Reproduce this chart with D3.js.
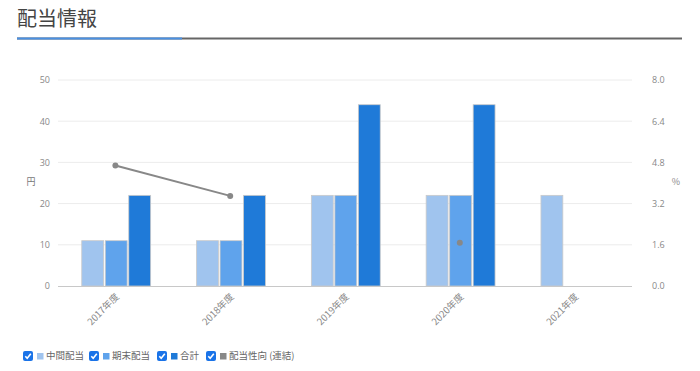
<!DOCTYPE html>
<html>
<head>
<meta charset="utf-8">
<script src="https://cdn.jsdelivr.net/npm/d3@7"></script>
<style>
body { margin: 0; background: #fff; font-family: "Noto Sans CJK JP", "Noto Sans", sans-serif; }
</style>
</head>
<body>
<svg width="700" height="371"></svg>
<script>
'use strict';
// data
let aYears = ["2017年度", "2018年度", "2019年度", "2020年度", "2021年度"]
let aInterim = [11, 11, 22, 22, 22]
let aYearEnd = [11, 11, 22, 22, null]
let aTotal = [22, 22, 44, 44, null]
let aPayout = [4.68, 3.5, null, 1.68, null]
let aSeries = ["中間配当", "期末配当", "合計", "配当性向 (連結)"]
let aColors = ["#a0c4ee", "#5fa3ec", "#1f7ad8", "#888888"]
let aLeftTicks = [0, 10, 20, 30, 40, 50]
let aRightTicks = [0, 1.6, 3.2, 4.8, 6.4, 8.0]

let eSvg = d3.select("svg")
let dLeft = 58, dRight = 632, dTop = 80, dBottom = 286

// title
eSvg.append("text").attr("x", 17).attr("y", 26)
	.attr("font-size", 20).attr("fill", "#444").text("配当情報")
eSvg.append("rect").attr("x", 17).attr("y", 37.5).attr("width", 665).attr("height", 2).attr("fill", "#666")
eSvg.append("rect").attr("x", 17).attr("y", 37.5).attr("width", 165).attr("height", 2).attr("fill", "#4a90e2")

// scales
let sX = d3.scaleBand().domain(aYears).range([dLeft, dRight])
let sInner = d3.scaleBand().domain([0, 1, 2]).range([0, sX.bandwidth() * 0.6]).paddingInner(0.07)
let sY = d3.scaleLinear().domain([0, 50]).range([dBottom, dTop])
let sY2 = d3.scaleLinear().domain([0, 8]).range([dBottom, dTop])

// grid
eSvg.append("g").selectAll("line").data(aLeftTicks.slice(1)).join("line")
	.attr("x1", dLeft).attr("x2", dRight)
	.attr("y1", d => sY(d)).attr("y2", d => sY(d))
	.attr("stroke", "#ececec")

// left axis
eSvg.append("g").attr("transform", `translate(${dLeft - 8},0)`)
	.call(d3.axisLeft(sY).tickValues(aLeftTicks).tickSize(0).tickPadding(0))
	.call(g => g.select(".domain").remove())
	.selectAll("text").attr("font-size", 9).attr("fill", "#888").attr("font-family", "Open Sans, sans-serif")

// right axis
eSvg.append("g").attr("transform", `translate(${dRight + 20},0)`)
	.call(d3.axisRight(sY2).tickValues(aRightTicks).tickFormat(d3.format(".1f")).tickSize(0).tickPadding(0))
	.call(g => g.select(".domain").remove())
	.selectAll("text").attr("font-size", 9).attr("fill", "#888").attr("font-family", "Open Sans, sans-serif")

eSvg.append("text").attr("x", 31).attr("y", 185).attr("text-anchor", "middle")
	.attr("font-size", 9).attr("fill", "#777").text("円")
eSvg.append("text").attr("x", 676).attr("y", 185).attr("text-anchor", "middle")
	.attr("font-size", 9).attr("fill", "#888").text("%")

// bars
let aBarSets = [aInterim, aYearEnd, aTotal]
let tBars = []
aYears.forEach((y, i) => {
	aBarSets.forEach((s, j) => {
		if (s[i] != null) tBars.push({year: y, k: j, v: s[i]})
	})
})
let dOffset = (sX.bandwidth() - sInner.range()[1]) / 2 + 0.8
eSvg.append("g").selectAll("rect").data(tBars).join("rect")
	.attr("x", d => sX(d.year) + dOffset + sInner(d.k))
	.attr("width", sInner.bandwidth())
	.attr("y", d => sY(d.v))
	.attr("height", d => dBottom - sY(d.v))
	.attr("fill", d => aColors[d.k])
	.attr("stroke", "#c9c9c9").attr("stroke-width", 0.8)

// baseline
eSvg.append("line").attr("x1", dLeft).attr("x2", dRight)
	.attr("y1", dBottom + 0.5).attr("y2", dBottom + 0.5).attr("stroke", "#c8c8c8")

// payout line
let tLine = aYears.map((y, i) => ({year: y, v: aPayout[i]}))
let fLine = d3.line().defined(d => d.v != null)
	.x(d => sX(d.year) + sX.bandwidth() / 2).y(d => sY2(d.v))
eSvg.append("path").datum(tLine).attr("d", fLine)
	.attr("fill", "none").attr("stroke", "#888").attr("stroke-width", 2)
eSvg.append("g").selectAll("circle").data(tLine.filter(d => d.v != null)).join("circle")
	.attr("cx", d => sX(d.year) + sX.bandwidth() / 2).attr("cy", d => sY2(d.v))
	.attr("r", 3).attr("fill", "#888")

// x labels
eSvg.append("g").selectAll("text").data(aYears).join("text")
	.attr("transform", d => `translate(${sX(d) + sX.bandwidth() / 2 + 2},${dBottom + 9}) rotate(-45)`)
	.attr("text-anchor", "end").attr("dy", "0.35em")
	.attr("font-size", 9.5).attr("fill", "#888").text(d => d)

// legend
let aLegendX = [23, 89, 157, 206]
let eLeg = eSvg.append("g").selectAll("g").data(aSeries).join("g")
	.attr("transform", (d, i) => `translate(${aLegendX[i]},351)`)
eLeg.append("rect").attr("width", 10).attr("height", 10).attr("rx", 2).attr("fill", "#1a73e8")
eLeg.append("path").attr("d", "M2.3,5.2 L4.2,7.2 L7.8,2.8")
	.attr("fill", "none").attr("stroke", "#fff").attr("stroke-width", 1.6)
eLeg.append("rect").attr("x", 14).attr("y", 2).attr("width", 6.5).attr("height", 6.5)
	.attr("fill", (d, i) => aColors[i])
eLeg.append("text").attr("x", 23).attr("y", 5).attr("dy", "0.35em")
	.attr("font-size", 9.5).attr("fill", "#666").text(d => d)
</script>
</body>
</html>
